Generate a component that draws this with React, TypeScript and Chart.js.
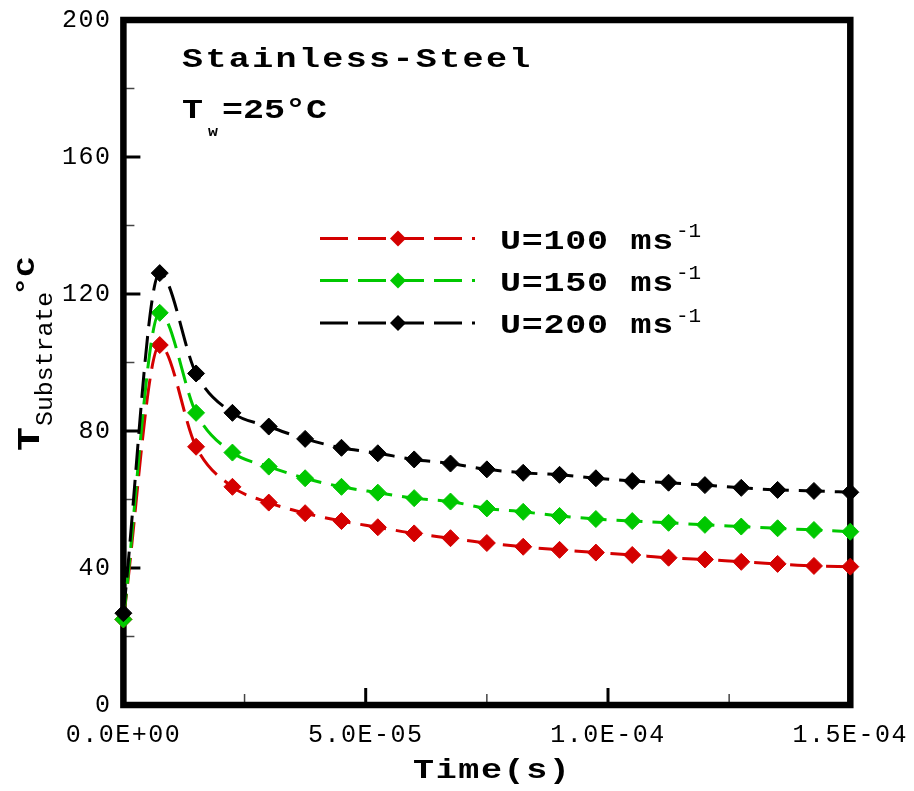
import React, { useEffect, useRef } from 'react';
import { Chart, registerables } from 'chart.js';

Chart.register(...registerables);

// ---- data ----
const times = [
  0, 7.5e-6, 1.5e-5, 2.25e-5, 3.0e-5, 3.75e-5, 4.5e-5, 5.25e-5, 6.0e-5, 6.75e-5,
  7.5e-5, 8.25e-5, 9.0e-5, 9.75e-5, 1.05e-4, 1.125e-4, 1.2e-4, 1.275e-4, 1.35e-4,
  1.425e-4, 1.5e-4,
];
const u100 = [25, 105.1, 75.4, 63.7, 59.1, 56.0, 53.7, 51.9, 50.1, 48.7, 47.3, 46.2, 45.3, 44.5, 43.8, 43.0, 42.5, 41.8, 41.2, 40.6, 40.4];
const u150 = [25, 114.5, 85.3, 73.7, 69.6, 66.2, 63.7, 62.0, 60.4, 59.4, 57.4, 56.4, 55.2, 54.3, 53.7, 53.2, 52.6, 52.1, 51.6, 51.1, 50.6];
const u200 = [26.8, 126.1, 96.8, 85.3, 81.3, 77.7, 75.1, 73.5, 71.7, 70.5, 68.8, 67.8, 67.2, 66.2, 65.4, 64.9, 64.2, 63.4, 62.8, 62.5, 62.1];

const seriesNames = ['U=100 ms', 'U=150 ms', 'U=200 ms'];
const yMajorTicks = [0, 40, 80, 120, 160, 200];
const yMinorTicks = [20, 60, 100, 140, 180];
const xMajorTicks = [0, 5e-5, 1e-4, 1.5e-4];
const xMinorTicks = [2.5e-5, 7.5e-5, 1.25e-4];

const RED = '#d40000';
const GREEN = '#00c800';
const BLACK = '#000000';
const FONT = "'Liberation Mono', 'Courier New', monospace";
const DASH = [26, 10];

function fmtExp(v: number): string {
  const s = Number(v).toExponential(1);
  const [m, e] = s.split('e');
  const sign = e[0] === '-' ? '-' : '+';
  const digits = e.replace(/[+-]/, '').padStart(2, '0');
  return `${m}E${sign}${digits}`;
}

function txt(ctx: CanvasRenderingContext2D, s: string, x: number, y: number, size: number, bold: boolean, spacing: number, sx = 1) {
  ctx.save();
  ctx.translate(x, y);
  ctx.scale(sx, 1);
  ctx.font = `${bold ? 'bold ' : ''}${size}px ${FONT}`;
  (ctx as any).letterSpacing = `${spacing}px`;
  ctx.textAlign = 'left';
  ctx.textBaseline = 'alphabetic';
  ctx.fillStyle = '#000';
  ctx.fillText(s, 0, 0);
  ctx.restore();
}

function diamond(ctx: CanvasRenderingContext2D, x: number, y: number, r: number, color: string) {
  ctx.beginPath();
  ctx.moveTo(x - r, y);
  ctx.lineTo(x, y - r);
  ctx.lineTo(x + r, y);
  ctx.lineTo(x, y + r);
  ctx.closePath();
  ctx.fillStyle = color;
  ctx.fill();
}

const decor = {
  id: 'decor',
  beforeUpdate(chart: any) {
    chart.ctx.letterSpacing = '1.5px';
  },
  beforeDraw(chart: any) {
    chart.ctx.letterSpacing = '1.5px';
  },
  beforeDatasetsDraw(chart: any) {
    const ctx: CanvasRenderingContext2D = chart.ctx;
    const { left, right, top, bottom } = chart.chartArea;
    const xs = chart.scales.x;
    const ys = chart.scales.y;
    ctx.save();
    // minor ticks
    ctx.lineWidth = 1.5;
    ctx.strokeStyle = '#444';
    yMinorTicks.forEach((v) => {
      const p = ys.getPixelForValue(v);
      ctx.beginPath();
      ctx.moveTo(left, p);
      ctx.lineTo(left + 11, p);
      ctx.stroke();
    });
    xMinorTicks.forEach((v) => {
      const p = xs.getPixelForValue(v);
      ctx.beginPath();
      ctx.moveTo(p, bottom);
      ctx.lineTo(p, bottom - 11);
      ctx.stroke();
    });
    // major ticks
    ctx.strokeStyle = '#000';
    ctx.lineWidth = 3;
    yMajorTicks.forEach((v) => {
      const p = ys.getPixelForValue(v);
      ctx.beginPath();
      ctx.moveTo(left, p);
      ctx.lineTo(left + 17, p);
      ctx.stroke();
    });
    xMajorTicks.forEach((v) => {
      const p = xs.getPixelForValue(v);
      ctx.beginPath();
      ctx.moveTo(p, bottom);
      ctx.lineTo(p, bottom - 17);
      ctx.stroke();
    });
    // frame
    ctx.lineWidth = 6.5;
    ctx.lineJoin = 'miter';
    ctx.strokeRect(left, top, right - left, bottom - top);
    ctx.restore();
  },
  afterDraw(chart: any) {
    const ctx: CanvasRenderingContext2D = chart.ctx;
    ctx.save();
    const SX = 1.25;
    // annotations
    txt(ctx, 'Stainless-Steel', 182, 67, 28, true, 1.9, SX);
    txt(ctx, 'T', 182, 118, 28, true, 0, SX);
    txt(ctx, 'w', 208, 136, 15, true, 0, 1.1);
    txt(ctx, '=25°C', 222, 118, 28, true, 0, SX);

    // x title
    txt(ctx, 'Time(s)', 413, 778, 28, true, 1.3, SX);

    // y title (rotated)
    ctx.save();
    ctx.translate(38.5, 451);
    ctx.rotate(-Math.PI / 2);
    txt(ctx, 'T', 0, 0, 32, true, 0, SX);
    txt(ctx, 'Substrate', 25, 13, 23, false, 0, 1.08);
    txt(ctx, '°C', 155, -4.5, 26, true, 0, SX);
    ctx.restore();

    // legend
    const colors = [RED, GREEN, BLACK];
    const rows = [238.5, 280.5, 323];
    rows.forEach((ly, i) => {
      ctx.save();
      ctx.strokeStyle = colors[i];
      ctx.lineWidth = 3;
      ctx.setLineDash([28, 10]);
      ctx.beginPath();
      ctx.moveTo(320, ly);
      ctx.lineTo(475, ly);
      ctx.stroke();
      ctx.restore();
      diamond(ctx, 398, ly, 8, colors[i]);
      txt(ctx, seriesNames[i], 500, ly + 10, 28, true, 0.6, SX);
      txt(ctx, '-1', 676, ly - 1.5, 20, false, 0, 1.05);
    });
    ctx.restore();
  },
};

function makeDataset(label: string, values: number[], color: string) {
  return {
    label,
    data: times.map((t, i) => ({ x: t, y: values[i] })),
    borderColor: color,
    backgroundColor: color,
    borderWidth: 3,
    borderDash: DASH,
    borderCapStyle: 'butt' as const,
    cubicInterpolationMode: 'monotone' as const,
    pointStyle: 'rectRot' as const,
    pointRadius: 8.5,
    pointHoverRadius: 8.5,
    pointBorderWidth: 1,
    pointBackgroundColor: color,
    pointBorderColor: color,
    clip: false as any,
  };
}

export default function App() {
  const ref = useRef<HTMLCanvasElement | null>(null);
  useEffect(() => {
    if (!ref.current) return;
    const chart = new Chart(ref.current, {
      type: 'line',
      data: {
        datasets: [
          makeDataset('U=200 ms-1', u200, BLACK),
          makeDataset('U=150 ms-1', u150, GREEN),
          makeDataset('U=100 ms-1', u100, RED),
        ],
      },
      options: {
        responsive: false,
        devicePixelRatio: 1,
        animation: false,
        events: [],
        layout: { padding: { left: 0, top: 20, right: 63.7, bottom: 0 } },
        plugins: { legend: { display: false }, tooltip: { enabled: false }, title: { display: false } },
        scales: {
          x: {
            type: 'linear',
            min: 0,
            max: 1.5e-4,
            grid: { display: false, drawTicks: false },
            border: { display: false },
            afterBuildTicks: (s: any) => {
              s.ticks = xMajorTicks.map((value) => ({ value }));
            },
            afterFit: (s: any) => {
              s.height = 86;
              s.paddingLeft = 0;
              s.paddingRight = 0;
            },
            ticks: {
              autoSkip: false,
              maxRotation: 0,
              minRotation: 0,
              padding: 15,
              color: '#000',
              font: { family: FONT, size: 25 },
              callback: (v: any) => fmtExp(Number(v)),
            },
          },
          y: {
            type: 'linear',
            min: 0,
            max: 200,
            grid: { display: false, drawTicks: false },
            border: { display: false },
            afterBuildTicks: (s: any) => {
              s.ticks = yMajorTicks.map((value) => ({ value }));
            },
            afterFit: (s: any) => {
              s.width = 123.4;
              s.paddingTop = 0;
              s.paddingBottom = 0;
            },
            ticks: {
              padding: 12,
              color: '#000',
              font: { family: FONT, size: 25 },
              callback: (v: any) => String(v),
            },
          },
        },
      },
      plugins: [decor],
    });
    return () => chart.destroy();
  }, []);
  return (
    <div style={{ position: 'fixed', left: 0, top: 0, width: 914, height: 791, background: '#fff' }}>
      <canvas ref={ref} width={914} height={791} style={{ display: 'block' }} />
    </div>
  );
}
